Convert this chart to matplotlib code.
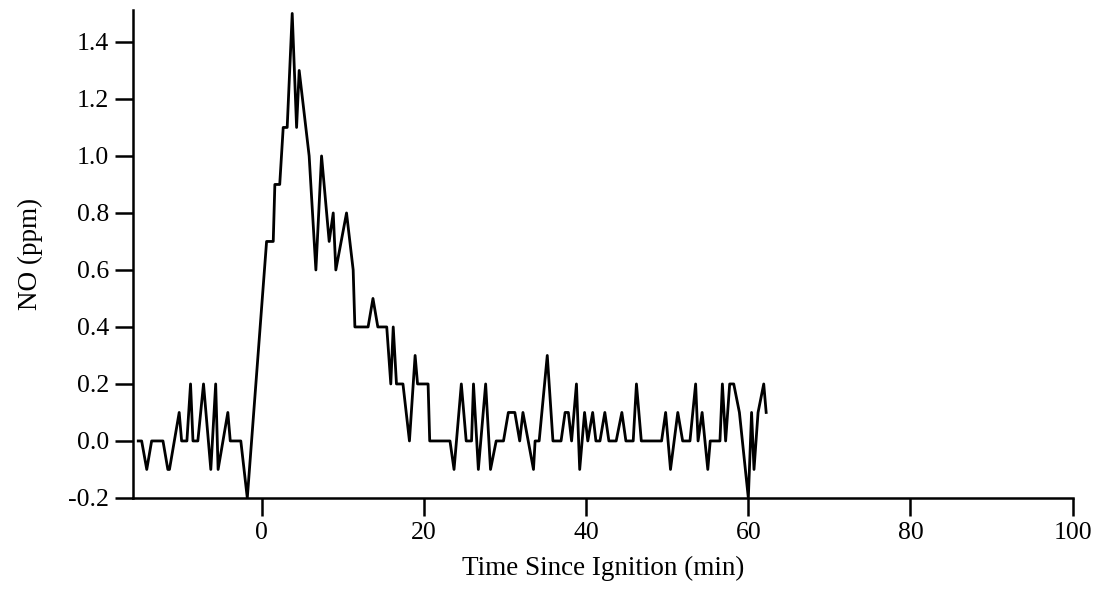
import numpy as np
import matplotlib
matplotlib.use('Agg')
import matplotlib.pyplot as plt

## NO trace (time in min, NO in ppm)
time_min = [-15.25, -14.83, -14.2, -13.6, -12.2, -11.6, -11.4, -10.2, -9.9, -9.25,
            -8.8, -8.5, -7.9, -7.2, -6.3, -5.7, -5.4, -4.2, -3.9, -2.6,
            -1.8, 0.58, 1.4, 1.6, 2.2, 2.63, 3.12, 3.74, 4.28, 4.6,
            5.83, 6.66, 7.36, 8.3, 8.8, 9.12, 10.44, 11.26, 11.47, 13.1,
            13.7, 14.3, 15.4, 15.9, 16.2, 16.6, 17.4, 18.2, 18.9, 19.2,
            20.5, 20.7, 23.2, 23.7, 24.6, 25.2, 25.86, 26.1, 26.7, 27.6,
            28.2, 28.9, 29.8, 30.4, 31.2, 31.8, 32.2, 33.5, 33.7, 34.2,
            35.2, 35.9, 36.9, 37.4, 37.8, 38.2, 38.8, 39.2, 39.8, 40.2,
            40.8, 41.2, 41.7, 42.3, 42.8, 43.7, 44.4, 44.9, 45.8, 46.2,
            46.8, 49.3, 49.8, 50.4, 51.3, 51.9, 52.8, 53.5, 53.8, 54.3,
            55.0, 55.3, 56.5, 56.8, 57.2, 57.7, 58.2, 58.9, 60.0, 60.4,
            60.7, 61.2, 61.9, 62.2]
no_ppm = [0.0, 0.0, -0.1, 0.0, 0.0, -0.1, -0.1, 0.1, 0.0, 0.0,
          0.2, 0.0, 0.0, 0.2, -0.1, 0.2, -0.1, 0.1, 0.0, 0.0,
          -0.2, 0.7, 0.7, 0.9, 0.9, 1.1, 1.1, 1.5, 1.1, 1.3,
          1.0, 0.6, 1.0, 0.7, 0.8, 0.6, 0.8, 0.6, 0.4, 0.4,
          0.5, 0.4, 0.4, 0.2, 0.4, 0.2, 0.2, 0.0, 0.3, 0.2,
          0.2, 0.0, 0.0, -0.1, 0.2, 0.0, 0.0, 0.2, -0.1, 0.2,
          -0.1, 0.0, 0.0, 0.1, 0.1, 0.0, 0.1, -0.1, 0.0, 0.0,
          0.3, 0.0, 0.0, 0.1, 0.1, 0.0, 0.2, -0.1, 0.1, 0.0,
          0.1, 0.0, 0.0, 0.1, 0.0, 0.0, 0.1, 0.0, 0.0, 0.2,
          0.0, 0.0, 0.1, -0.1, 0.1, 0.0, 0.0, 0.2, 0.0, 0.1,
          -0.1, 0.0, 0.0, 0.2, 0.0, 0.2, 0.2, 0.1, -0.2, 0.1,
          -0.1, 0.1, 0.2, 0.1]

x_ticks = [0, 20, 40, 60, 80, 100]
y_ticks = [-0.2, 0.0, 0.2, 0.4, 0.6, 0.8, 1.0, 1.2, 1.4]

plt.rcParams['font.family'] = ['Liberation Serif', 'DejaVu Serif']

fig = plt.figure(figsize=(10.99, 5.90), dpi=100)
ax = fig.add_axes([0.121, 0.156, 0.855, 0.827])

ax.plot(time_min, no_ppm, color='black', linewidth=2.0)

ax.set_xlim(-15.9, 100)
ax.set_ylim(-0.2, 1.512)
ax.set_xticks(x_ticks)
ax.set_yticks(y_ticks)
ax.set_yticklabels(['%.1f' % v for v in y_ticks])

for side in ['top', 'right']:
    ax.spines[side].set_visible(False)
for side in ['left', 'bottom']:
    ax.spines[side].set_linewidth(1.8)

ax.tick_params(direction='out', length=13, width=1.8, labelsize=18.5, pad=4)
ax.tick_params(axis='x', pad=4)

ax.set_xlabel('Time Since Ignition (min)', fontsize=19.5, labelpad=9)
ax.set_ylabel('NO (ppm)', fontsize=19.5, labelpad=18)

fig.savefig('out.png', dpi=100)
